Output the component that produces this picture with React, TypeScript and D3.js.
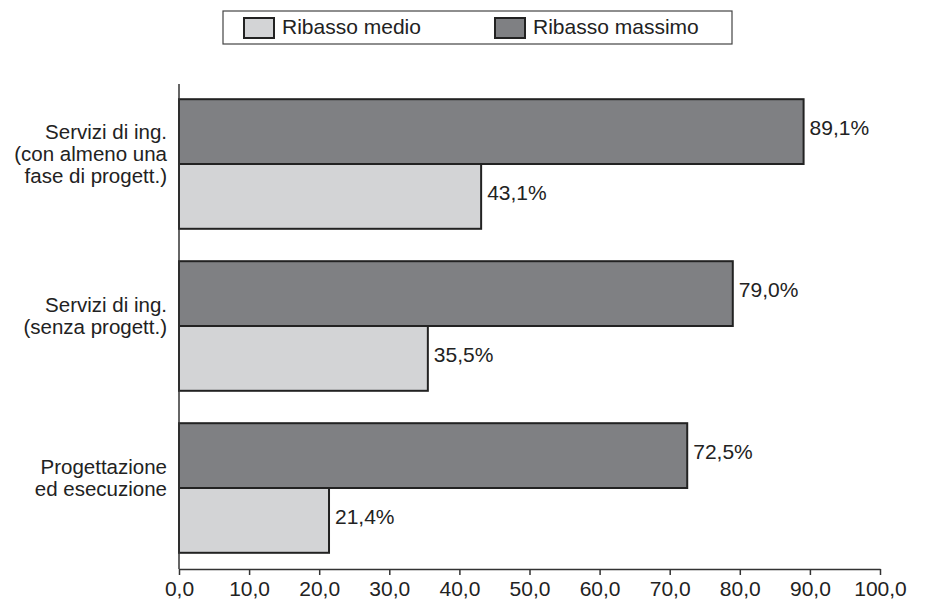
import React, { useEffect, useRef } from 'react';
import * as d3 from 'd3';

const categories = [
  ['Servizi di ing.', '(con almeno una', 'fase di progett.)'],
  ['Servizi di ing.', '(senza progett.)'],
  ['Progettazione', 'ed esecuzione'],
];
const seriesNames = ['Ribasso massimo', 'Ribasso medio'];
const ribassoMassimo = [89.1, 79.0, 72.5];
const ribassoMedio = [43.1, 35.5, 21.4];
const xTicks = [0, 10, 20, 30, 40, 50, 60, 70, 80, 90, 100];
const legendOrder = ['Ribasso medio', 'Ribasso massimo'];

const colors: Record<string, string> = {
  'Ribasso medio': '#d3d4d6',
  'Ribasso massimo': '#7f8083',
};

const fmt = (v: number) => v.toFixed(1).replace('.', ',');

const App: React.FC = () => {
  const svgRef = useRef<SVGSVGElement>(null);
  const width = 931;
  const height = 601;

  useEffect(() => {
    if (!svgRef.current) return;
    const svg = d3.select(svgRef.current);
    svg.selectAll('*').remove();

    const font = 'Liberation Sans, Arial, sans-serif';
    const fs = '21px';
    const left = 179;
    const right = 880;
    const top = 84;
    const bottom = 569;

    const x = d3.scaleLinear().domain([0, 100]).range([left, right]);
    const y = d3.scaleBand<number>()
      .domain(d3.range(categories.length))
      .range([83, bottom])
      .paddingInner(0.2)
      .paddingOuter(0.1);
    const ySub = d3.scaleBand<string>()
      .domain(seriesNames)
      .range([0, y.bandwidth()]);

    const values: Record<string, number[]> = {
      'Ribasso massimo': ribassoMassimo,
      'Ribasso medio': ribassoMedio,
    };

    // Bars
    categories.forEach((_, i) => {
      const g = svg.append('g').attr('transform', `translate(0,${y(i)})`);
      seriesNames.forEach(name => {
        const v = values[name][i];
        g.append('rect')
          .attr('x', x(0))
          .attr('y', ySub(name) || 0)
          .attr('width', x(v) - x(0))
          .attr('height', ySub.bandwidth())
          .attr('fill', colors[name])
          .attr('stroke', '#222')
          .attr('stroke-width', 2);
        g.append('text')
          .attr('x', x(v) + 6)
          .attr('y', (ySub(name) || 0) + ySub.bandwidth() / 2 - 2)
          .attr('dominant-baseline', 'middle')
          .style('font-family', font)
          .style('font-size', fs)
          .style('fill', '#222')
          .text(`${fmt(v)}%`);
      });

      // Category label
      const lines = categories[i];
      const lh = 22;
      const mid = (y(i) || 0) + y.bandwidth() / 2 - 3;
      const t = svg.append('text')
        .attr('text-anchor', 'end')
        .style('font-family', font)
        .style('font-size', '20.5px')
        .style('fill', '#222');
      lines.forEach((line, k) => {
        t.append('tspan')
          .attr('x', 167)
          .attr('y', mid + (k - (lines.length - 1) / 2) * lh)
          .text(line);
      });
    });

    // Y axis line
    svg.append('line')
      .attr('x1', left).attr('x2', left)
      .attr('y1', top).attr('y2', bottom)
      .attr('stroke', '#333').attr('stroke-width', 1.5);

    // X axis
    const xAxis = svg.append('g')
      .attr('transform', `translate(0,${bottom})`)
      .call(d3.axisBottom(x).tickValues(xTicks).tickSize(6).tickSizeOuter(0).tickPadding(6).tickFormat(d => fmt(+d)));
    xAxis.select('.domain').attr('stroke', '#333').attr('stroke-width', 1.5);
    xAxis.selectAll('.tick line').attr('stroke', '#333').attr('stroke-width', 1.5);
    xAxis.selectAll('.tick text')
      .style('font-family', font)
      .style('font-size', fs)
      .style('fill', '#222');

    // Legend
    const legend = svg.append('g');
    legend.append('rect')
      .attr('x', 223).attr('y', 11)
      .attr('width', 509).attr('height', 33)
      .attr('fill', 'white')
      .attr('stroke', '#444').attr('stroke-width', 1.2);
    const legendX = d3.scalePoint<string>().domain(legendOrder).range([244, 495]);
    legendOrder.forEach(name => {
      const lx = legendX(name) || 0;
      legend.append('rect')
        .attr('x', lx).attr('y', 18)
        .attr('width', 30).attr('height', 20)
        .attr('fill', colors[name])
        .attr('stroke', '#222').attr('stroke-width', 2);
      legend.append('text')
        .attr('x', lx + 38).attr('y', 28)
        .attr('dominant-baseline', 'middle')
        .style('font-family', font)
        .style('font-size', fs)
        .style('fill', '#222')
        .text(name);
    });
  }, []);

  return (
    <svg
      ref={svgRef}
      width={width}
      height={height}
      style={{ position: 'absolute', left: 0, top: 0, background: 'white' }}
    />
  );
};

export default App;
